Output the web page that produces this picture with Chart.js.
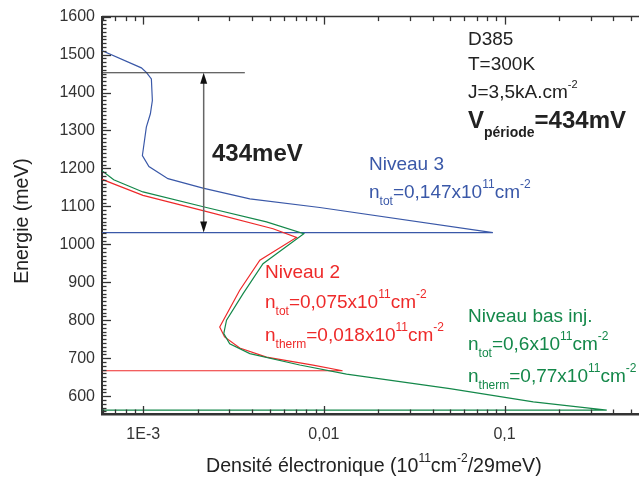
<!DOCTYPE html>
<html><head><meta charset="utf-8">
<script src="https://cdn.jsdelivr.net/npm/chart.js@4/dist/chart.umd.min.js"></script>
<style>html,body{margin:0;padding:0;background:#fff;}canvas{display:block;}</style>
</head><body>
<canvas id="c" width="639" height="479"></canvas>
<script>
// ---- data ----
const xMin = 5.91e-4, xMax = 0.555;
const yMin = 553, yMax = 1600;
const xTickValues = [0.001, 0.01, 0.1];
const xTickLabels = ["1E-3", "0,01", "0,1"];
const yTickValues = [600, 700, 800, 900, 1000, 1100, 1200, 1300, 1400, 1500, 1600];
const yTickLabels = ["600", "700", "800", "900", "1000", "1100", "1200", "1300", "1400", "1500", "1600"];

// Niveau 3 (blue)
const blueX = [5.8e-4, 0.976e-3, 1.04e-3, 1.109e-3, 1.123e-3, 1.095e-3, 1.040e-3, 0.989e-3, 1.075e-3, 1.37e-3, 2.14e-3, 3.89e-3, 9.49e-3, 0.0862, 5.8e-4];
const blueY = [1512, 1465, 1453, 1436, 1379, 1344, 1309, 1234, 1205, 1173, 1148, 1120, 1097, 1031, 1031];
// Niveau 2 (red)
const redX = [5.8e-4, 0.679e-3, 0.996e-3, 2.14e-3, 5.23e-3, 7.05e-3, 4.42e-3, 3.42e-3, 2.65e-3, 2.82e-3, 3.42e-3, 4.81e-3, 8.71e-3, 0.01268, 5.8e-4];
const redY = [1173, 1160, 1129, 1089, 1041, 1018, 958, 879, 782, 756, 727, 703, 682, 667, 667];
// Niveau bas inj. (green)
const greenX = [5.8e-4, 0.686e-3, 0.996e-3, 2.236e-3, 4.81e-3, 7.74e-3, 4.60e-3, 3.57e-3, 2.89e-3, 2.79e-3, 3.01e-3, 3.89e-3, 7.35e-3, 0.01334, 0.0498, 0.1443, 0.368, 5.8e-4];
const greenY = [1197, 1170, 1138, 1097, 1059, 1028, 949, 870, 800, 765, 738, 712, 682, 658, 620, 585, 563, 563];

// period bracket
const bracketTop = 1452, bracketBottom = 1031;
const bracketLineEndX = 3.65e-3;
const arrowX = 2.16e-3;

// ---- styles ----
const F = "'Liberation Sans', Arial, sans-serif";
const BLUE = '#3a58a8', RED = '#ee2a2a', GREEN = '#14884a', AX = '#333333';

const pts = (xs, ys) => xs.map((v, i) => ({x: v, y: ys[i]}));

function rich(ctx, x, y, parts, color) {
  ctx.fillStyle = color;
  ctx.textAlign = 'left';
  ctx.textBaseline = 'alphabetic';
  for (const p of parts) {
    ctx.font = (p.b ? 'bold ' : '') + p.s + 'px ' + F;
    ctx.fillText(p.t, x, y + (p.dy || 0));
    x += ctx.measureText(p.t).width;
  }
}

const deco = {
  id: 'deco',
  afterDatasetsDraw(chart) {
    const {ctx, chartArea: a, scales: {x, y}} = chart;
    ctx.save();
    const line = (x1, y1, x2, y2) => { ctx.beginPath(); ctx.moveTo(x1, y1); ctx.lineTo(x2, y2); ctx.stroke(); };
    // top axis
    ctx.strokeStyle = AX; ctx.lineWidth = 1.5;
    line(a.left, a.top, a.right, a.top);
    // x ticks (bottom + top)
    ctx.lineWidth = 1.3;
    for (let n = -4; n <= 0; n++) {
      for (let k = 1; k <= 9; k++) {
        const v = k * Math.pow(10, n);
        if (v < x.min || v > x.max) continue;
        const px = Math.round(x.getPixelForValue(v)) + 0.5;
        const L = k === 1 ? 8 : 4.5;
        line(px, a.bottom, px, a.bottom - L);
        line(px, a.top, px, a.top + L);
      }
    }
    // y ticks
    for (let v = 560; v <= 1600; v += 10) {
      const py = Math.round(y.getPixelForValue(v)) + 0.5;
      const L = v % 100 === 0 ? 9 : 4.5;
      line(a.left, py, a.left + L, py);
    }
    // bracket line
    ctx.strokeStyle = '#333'; ctx.lineWidth = 1.2;
    const by = y.getPixelForValue(bracketTop);
    line(a.left, by, x.getPixelForValue(bracketLineEndX), by);
    // arrow
    const ax = x.getPixelForValue(arrowX);
    const ay1 = by, ay2 = y.getPixelForValue(bracketBottom);
    ctx.strokeStyle = '#666'; ctx.lineWidth = 1.5;
    line(ax, ay1 + 8, ax, ay2 - 8);
    ctx.fillStyle = '#111';
    ctx.beginPath(); ctx.moveTo(ax, ay1); ctx.lineTo(ax - 3.5, ay1 + 11); ctx.lineTo(ax + 3.5, ay1 + 11); ctx.closePath(); ctx.fill();
    ctx.beginPath(); ctx.moveTo(ax, ay2); ctx.lineTo(ax - 3.5, ay2 - 11); ctx.lineTo(ax + 3.5, ay2 - 11); ctx.closePath(); ctx.fill();

    // annotations
    rich(ctx, 212, 161, [{t: '434meV', s: 24, b: true}], '#222');
    const K = '#222';
    rich(ctx, 468, 45, [{t: 'D385', s: 19}], K);
    rich(ctx, 468, 70, [{t: 'T=300K', s: 19}], K);
    rich(ctx, 468, 98, [{t: 'J=3,5kA.cm', s: 19}, {t: '-2', s: 11, dy: -10}], K);
    rich(ctx, 468, 128, [{t: 'V', s: 24, b: true}, {t: 'période', s: 14, b: true, dy: 9}, {t: '=434mV', s: 24, b: true}], K);

    rich(ctx, 369, 170, [{t: 'Niveau 3', s: 19}], BLUE);
    rich(ctx, 369, 198, [{t: 'n', s: 19}, {t: 'tot', s: 12, dy: 7}, {t: '=0,147x10', s: 19}, {t: '11', s: 12, dy: -10}, {t: 'cm', s: 19}, {t: '-2', s: 12, dy: -10}], BLUE);

    rich(ctx, 265, 278, [{t: 'Niveau 2', s: 19}], RED);
    rich(ctx, 265, 308, [{t: 'n', s: 19}, {t: 'tot', s: 12, dy: 7}, {t: '=0,075x10', s: 19}, {t: '11', s: 12, dy: -10}, {t: 'cm', s: 19}, {t: '-2', s: 12, dy: -10}], RED);
    rich(ctx, 265, 341, [{t: 'n', s: 19}, {t: 'therm', s: 12, dy: 7}, {t: '=0,018x10', s: 19}, {t: '11', s: 12, dy: -10}, {t: 'cm', s: 19}, {t: '-2', s: 12, dy: -10}], RED);

    rich(ctx, 468, 322, [{t: 'Niveau bas inj.', s: 19}], GREEN);
    rich(ctx, 468, 350, [{t: 'n', s: 19}, {t: 'tot', s: 12, dy: 7}, {t: '=0,6x10', s: 19}, {t: '11', s: 12, dy: -10}, {t: 'cm', s: 19}, {t: '-2', s: 12, dy: -10}], GREEN);
    rich(ctx, 468, 382, [{t: 'n', s: 19}, {t: 'therm', s: 12, dy: 7}, {t: '=0,77x10', s: 19}, {t: '11', s: 12, dy: -10}, {t: 'cm', s: 19}, {t: '-2', s: 12, dy: -10}], GREEN);

    // axis titles
    rich(ctx, 206, 472, [{t: 'Densité électronique (10', s: 19.6}, {t: '11', s: 12, dy: -10}, {t: 'cm', s: 19.6}, {t: '-2', s: 12, dy: -10}, {t: '/29meV)', s: 19.6}], '#222');
    ctx.save();
    ctx.translate(28, 221);
    ctx.rotate(-Math.PI / 2);
    ctx.font = '19.5px ' + F;
    ctx.fillStyle = '#222';
    ctx.textAlign = 'center';
    ctx.textBaseline = 'alphabetic';
    ctx.fillText('Energie (meV)', 0, 0);
    ctx.restore();
    ctx.restore();
  }
};

const ds = (xs, ys, c) => ({data: pts(xs, ys), borderColor: c, backgroundColor: c, showLine: true, pointRadius: 0, borderWidth: 1.2, fill: false, tension: 0});

new Chart(document.getElementById('c'), {
  type: 'scatter',
  data: {datasets: [ds(greenX, greenY, GREEN), ds(redX, redY, RED), ds(blueX, blueY, BLUE)]},
  options: {
    responsive: false, animation: false, devicePixelRatio: 1,
    layout: {padding: {top: 16, left: 0, right: 0, bottom: 0}},
    plugins: {legend: {display: false}, tooltip: {enabled: false}},
    scales: {
      x: {
        type: 'logarithmic', min: xMin, max: xMax,
        grid: {display: false, drawTicks: false},
        border: {display: true, color: AX, width: 2.5},
        ticks: {font: {size: 16, family: F}, color: '#333', padding: 11, autoSkip: false, maxRotation: 0,
          callback: (v, i) => xTickLabels[i]},
        afterBuildTicks: s => { s.ticks = xTickValues.map(v => ({value: v})); },
        afterFit: s => { s.height = 65; }
      },
      y: {
        type: 'linear', min: yMin, max: yMax,
        grid: {display: false, drawTicks: false},
        border: {display: true, color: AX, width: 2},
        ticks: {font: {size: 16, family: F}, color: '#333', padding: 7, autoSkip: false,
          callback: (v, i) => yTickLabels[i]},
        afterBuildTicks: s => { s.ticks = yTickValues.map(v => ({value: v})); },
        afterFit: s => { s.width = 102; }
      }
    }
  },
  plugins: [deco]
});
</script>
</body></html>
